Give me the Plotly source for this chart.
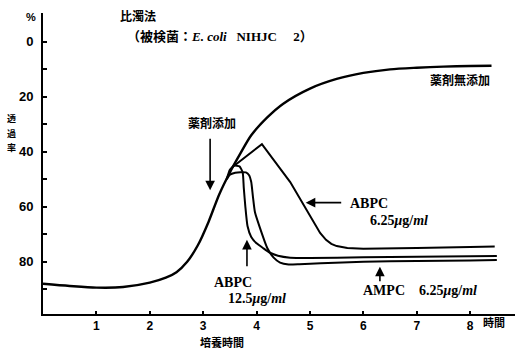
import plotly.graph_objects as go

# --- data (hours, transmittance %) ---
control_x = [0, 0.5, 1.0, 1.5, 2.0, 2.3, 2.5, 2.7, 2.9, 3.1, 3.3, 3.5, 3.7, 3.9, 4.2, 4.5, 5.0, 5.5, 6.0, 6.5, 7.0, 7.5, 8.0, 8.4]
control_y = [88, 88.8, 89.4, 89.2, 87.6, 85.8, 83.8, 80.0, 74.0, 65.5, 55.5, 47.5, 40.5, 34.0, 27.5, 22.5, 17.0, 13.5, 11.3, 10.0, 9.4, 9.0, 8.8, 8.7]

abpc625_x = [3.55, 4.1, 4.63, 4.94, 5.19, 5.3, 5.4, 5.5, 5.7, 6.0, 6.5, 7.0, 8.0, 8.46]
abpc625_y = [45.5, 37.2, 51.0, 61.0, 69.5, 72.0, 73.5, 74.3, 75.0, 75.3, 75.2, 75.0, 74.6, 74.4]

abpc125_x = [3.44, 3.5, 3.58, 3.68, 3.74, 3.76, 3.79, 3.83, 3.9, 4.0, 4.12, 4.25, 4.4, 4.63, 5.0, 6.0, 7.0, 8.0, 8.5]
abpc125_y = [50.0, 46.5, 45.0, 45.3, 47.5, 53.0, 60.0, 67.0, 71.0, 73.3, 75.0, 76.7, 77.8, 78.5, 78.6, 78.4, 78.2, 78.0, 77.9]

ampc625_x = [3.44, 3.5, 3.6, 3.7, 3.8, 3.86, 3.9, 3.93, 3.97, 4.06, 4.2, 4.32, 4.44, 4.6, 4.8, 5.2, 6.0, 7.0, 8.0, 8.5]
ampc625_y = [50.0, 48.3, 47.6, 47.4, 47.5, 48.5, 51.0, 56.0, 62.0, 67.5, 75.0, 78.5, 80.3, 81.0, 80.9, 80.5, 80.0, 79.7, 79.5, 79.4]

x_ticks = [1, 2, 3, 4, 5, 6, 7, 8]
y_ticks = [0, 10, 20, 30, 40, 50, 60, 70, 80, 90]
y_ticklabels = ["0", "", "20", "", "40", "", "60", "", "80", ""]

JP = "Noto Sans CJK JP"
SERIF = "Liberation Serif"
SANS = "Liberation Sans"
NB = "\u00a0"

fig = go.Figure()
fig.add_trace(go.Scatter(x=control_x, y=control_y, mode="lines",
                         line=dict(color="black", width=2.4, shape="spline", smoothing=0.8)))
fig.add_trace(go.Scatter(x=abpc625_x, y=abpc625_y, mode="lines",
                         line=dict(color="black", width=2, shape="linear")))
fig.add_trace(go.Scatter(x=abpc125_x, y=abpc125_y, mode="lines",
                         line=dict(color="black", width=2, shape="spline", smoothing=0.5)))
fig.add_trace(go.Scatter(x=ampc625_x, y=ampc625_y, mode="lines",
                         line=dict(color="black", width=2, shape="spline", smoothing=0.5)))

ann = []
def txt(x, y, s, size=12, font=JP, xanchor="center", weight="bold"):
    ann.append(dict(x=x, y=y, xref="paper", yref="paper", text=s, showarrow=False,
                    xanchor=xanchor, yanchor="middle", borderpad=0,
                    font=dict(family=font, size=size, color="black", weight=weight)))

L, R, T, B = 43, 1, 13, 36
W, H = 516, 350
def px(xp):
    return (xp - L) / (W - L - R)
def py(yp):
    return 1 - (yp - T) / (H - T - B)

ser = "<span style='font-family:Liberation Serif'><b>%s</b></span>"
unit = "<i>μ</i>g/<i>ml</i>"
txt(px(119), py(15), "比濁法", size=12, xanchor="left")
txt(px(126), py(35), "（被検菌：" + ser % ("<i>E. coli</i>" + NB * 3 + "NIHJC" + NB * 5 + "2") + "）",
    size=13, xanchor="left")
txt(px(212), py(122), "薬剤添加", size=12)
txt(px(460), py(79), "薬剤無添加", size=12)
txt(px(349), py(203), "ABPC", size=14, font=SERIF, xanchor="left")
txt(px(369), py(220), "6.25" + unit, size=14, font=SERIF, xanchor="left")
txt(px(213), py(282), "ABPC", size=14, font=SERIF, xanchor="left")
txt(px(227), py(298), "12.5" + unit, size=14, font=SERIF, xanchor="left")
txt(px(362), py(290), "AMPC" + NB * 4 + "6.25" + unit, size=14, font=SERIF, xanchor="left")
txt(px(222), py(342), "培養時間", size=11)
txt(px(494), py(322), "時間", size=11)
txt(px(31), py(17), "%", size=11, font=SANS)
for ch, yy in zip(["透", "過", "率"], [119, 133, 147]):
    txt(px(11), py(yy), ch, size=9)

def arrow(x, y, ax, ay):
    ann.append(dict(x=x, y=y, xref="x", yref="y", ax=ax, ay=ay, text="",
                    showarrow=True, arrowhead=2, arrowsize=1.2, arrowwidth=1.6,
                    arrowcolor="black", standoff=0))

arrow(3.13, 54, 0, -53)      # 薬剤添加
arrow(4.92, 58.5, 37, 0)     # ABPC 6.25
arrow(3.82, 72, 0, 28)       # ABPC 12.5
arrow(6.31, 81.8, 0, 16)     # AMPC 6.25

fig.update_layout(
    width=W, height=H, margin=dict(l=L, r=R, t=T, b=B),
    paper_bgcolor="white", plot_bgcolor="white", showlegend=False,
    annotations=ann,
    xaxis=dict(range=[0, 8.84], tickvals=x_ticks, ticktext=[str(v) for v in x_ticks],
               ticks="inside", ticklen=3, tickwidth=1.5, tickcolor="black",
               showline=True, linecolor="black", linewidth=2, showgrid=False, zeroline=False,
               tickfont=dict(family=SANS, size=12, color="black", weight="bold")),
    yaxis=dict(range=[99, -10.5], tickvals=y_ticks, ticktext=y_ticklabels,
               ticks="inside", ticklen=4, tickwidth=1.5, tickcolor="black",
               ticklabelstandoff=5,
               showline=True, linecolor="black", linewidth=2, showgrid=False, zeroline=False,
               tickfont=dict(family=SANS, size=13, color="black", weight="bold")),
)

fig.write_html("out.html", config={"displayModeBar": False},
               post_script="document.body.style.margin='0';document.body.style.overflow='hidden';")
